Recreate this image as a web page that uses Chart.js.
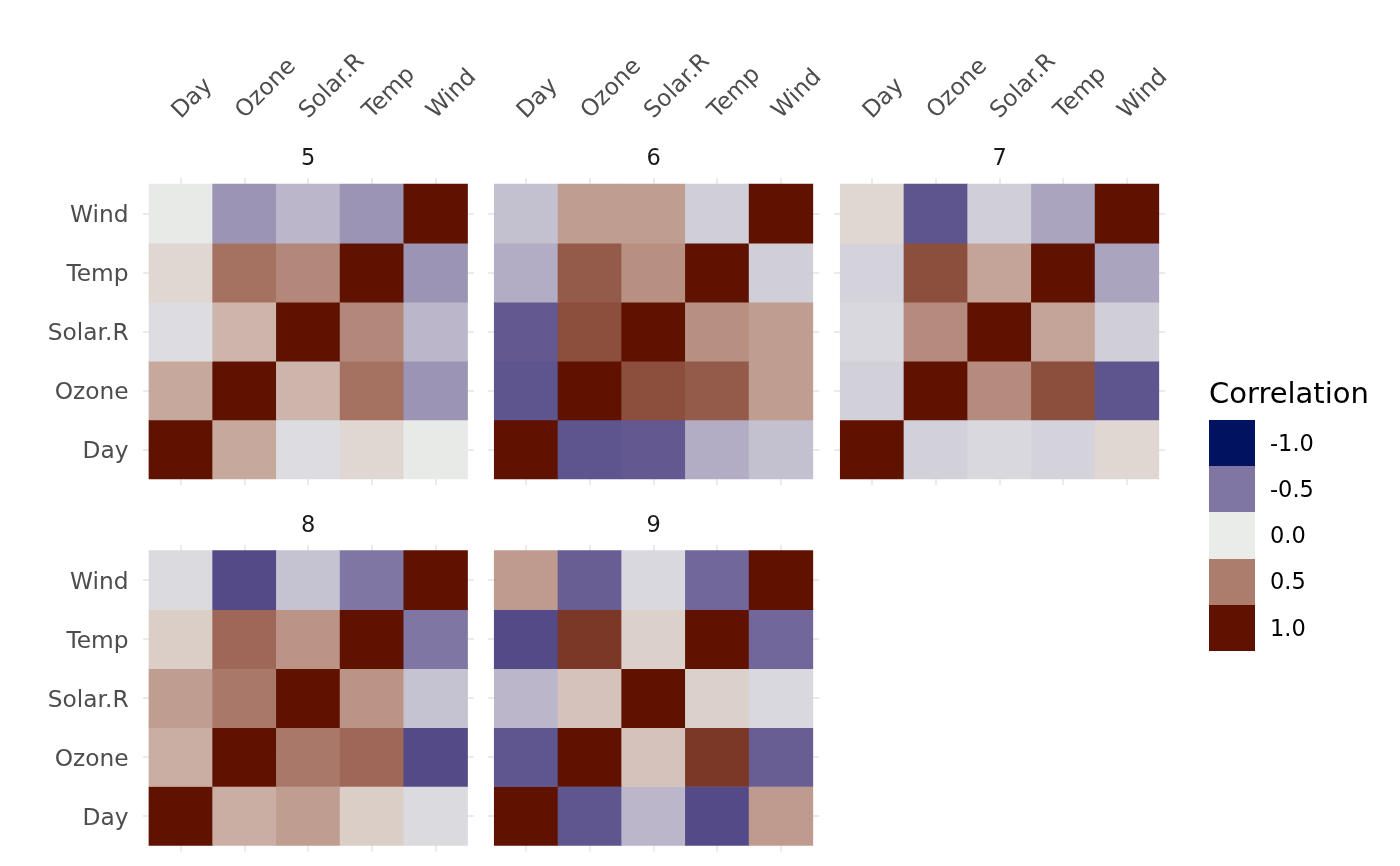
<!DOCTYPE html>
<html>
<head>
<meta charset="utf-8">
<script src="https://cdn.jsdelivr.net/npm/chart.js@4/dist/chart.umd.min.js"></script>
<style>
html,body{margin:0;padding:0;background:#ffffff;width:1400px;height:866px;overflow:hidden;font-family:'DejaVu Sans',sans-serif;}
canvas.facet{position:absolute;left:0;top:0;}
#legend{position:absolute;left:1209px;top:378.5px;color:#000;}
#legend .title{font-size:29px;line-height:29px;height:41.5px;white-space:nowrap;}
#legend .row{display:flex;align-items:center;height:46.2px;}
#legend .key{width:46px;height:46.2px;}
#legend .lab{margin-left:15px;font-size:22.5px;line-height:22.5px;}
</style>
</head>
<body>
<canvas id="facet5" class="facet" width="1400" height="866"></canvas>
<canvas id="facet6" class="facet" width="1400" height="866"></canvas>
<canvas id="facet7" class="facet" width="1400" height="866"></canvas>
<canvas id="facet8" class="facet" width="1400" height="866"></canvas>
<canvas id="facet9" class="facet" width="1400" height="866"></canvas>
<div id="legend"></div>
<script>
// ---------------- data ----------------
const variables = ['Day', 'Ozone', 'Solar.R', 'Temp', 'Wind'];
const months = ['5', '6', '7', '8', '9'];
// rows/cols in the order of `variables`
const corrMonth5 = [
  [ 1.00,  0.30, -0.06,  0.09, -0.01],
  [ 0.30,  1.00,  0.24,  0.55, -0.37],
  [-0.06,  0.24,  1.00,  0.45, -0.22],
  [ 0.09,  0.55,  0.45,  1.00, -0.37],
  [-0.01, -0.37, -0.22, -0.37,  1.00]
];
const corrMonth6 = [
  [ 1.00, -0.66, -0.64, -0.26, -0.18],
  [-0.66,  1.00,  0.72,  0.66,  0.35],
  [-0.64,  0.72,  1.00,  0.41,  0.35],
  [-0.26,  0.66,  0.41,  1.00, -0.12],
  [-0.18,  0.35,  0.35, -0.12,  1.00]
];
const corrMonth7 = [
  [ 1.00, -0.11, -0.08, -0.10,  0.09],
  [-0.11,  1.00,  0.43,  0.72, -0.66],
  [-0.08,  0.43,  1.00,  0.32, -0.12],
  [-0.10,  0.72,  0.32,  1.00, -0.30],
  [ 0.09, -0.66, -0.12, -0.30,  1.00]
];
const corrMonth8 = [
  [ 1.00,  0.27,  0.35,  0.13, -0.07],
  [ 0.27,  1.00,  0.52,  0.60, -0.71],
  [ 0.35,  0.52,  1.00,  0.39, -0.17],
  [ 0.13,  0.60,  0.39,  1.00, -0.50],
  [-0.07, -0.71, -0.17, -0.50,  1.00]
];
const corrMonth9 = [
  [ 1.00, -0.65, -0.22, -0.71,  0.36],
  [-0.65,  1.00,  0.18,  0.83, -0.61],
  [-0.22,  0.18,  1.00,  0.12, -0.08],
  [-0.71,  0.83,  0.12,  1.00, -0.57],
  [ 0.36, -0.61, -0.08, -0.57,  1.00]
];
const legendBreaks = [-1.0, -0.5, 0.0, 0.5, 1.0];
const legendLabels = ['-1.0', '-0.5', '0.0', '0.5', '1.0'];
const legendTitle = 'Correlation';

// ---------------- colour scale (Lab interpolation, like gradient2) ----------------
const lowColour = '#001260', midColour = '#EAECE9', highColour = '#601200';
function hexToRgb(h){return [1,3,5].map(i=>parseInt(h.slice(i,i+2),16));}
function toLin(c){c/=255;return c<=0.04045?c/12.92:Math.pow((c+0.055)/1.055,2.4);}
function toSrgb(c){c=c<=0.0031308?12.92*c:1.055*Math.pow(c,1/2.4)-0.055;return Math.round(Math.max(0,Math.min(1,c))*255);}
const WX=0.95047, WY=1.0, WZ=1.08883, EPS=216/24389, KAP=24389/27;
function fLab(t){return t>EPS?Math.cbrt(t):(KAP*t+16)/116;}
function fInv(t){const t3=t*t*t;return t3>EPS?t3:(116*t-16)/KAP;}
function rgbToLab(rgb){
  const [r,g,b]=rgb.map(toLin);
  const X=0.4124564*r+0.3575761*g+0.1804375*b;
  const Y=0.2126729*r+0.7151522*g+0.0721750*b;
  const Z=0.0193339*r+0.1191920*g+0.9503041*b;
  const fx=fLab(X/WX), fy=fLab(Y/WY), fz=fLab(Z/WZ);
  return [116*fy-16, 500*(fx-fy), 200*(fy-fz)];
}
function labToHex(lab){
  const [L,a,bb]=lab;
  const fy=(L+16)/116, fx=fy+a/500, fz=fy-bb/200;
  const X=WX*fInv(fx), Y=WY*(L>KAP*EPS?fy*fy*fy:L/KAP), Z=WZ*fInv(fz);
  const r= 3.2404542*X-1.5371385*Y-0.4985314*Z;
  const g=-0.9692660*X+1.8760108*Y+0.0415560*Z;
  const b= 0.0556434*X-0.2040259*Y+1.0572252*Z;
  return '#'+[r,g,b].map(toSrgb).map(v=>v.toString(16).padStart(2,'0')).join('');
}
const LAB_LOW=rgbToLab(hexToRgb(lowColour)), LAB_MID=rgbToLab(hexToRgb(midColour)), LAB_HIGH=rgbToLab(hexToRgb(highColour));
function fillColour(v){
  const t=Math.min(1,Math.abs(v)); const end=v>=0?LAB_HIGH:LAB_LOW;
  return labToHex(LAB_MID.map((m,i)=>m+(end[i]-m)*t));
}

// ---------------- layout ----------------
const FONT='DejaVu Sans';
Chart.defaults.font.family=FONT;
const colLeft=[142.6, 487.9, 833.9];
const rowTop=[178.3, 544.8];
const panelW=331.3, panelH=306.6;
const PAGE_W=1400, PAGE_H=866;
const AXIS_FONT=23.3;

const facetMatrices=[corrMonth5, corrMonth6, corrMonth7, corrMonth8, corrMonth9];

function makeFacet(k){
  const matrix=facetMatrices[k];
  const col=k%3, row=Math.floor(k/3);
  const showY=col===0, showX=row===0;
  const yW=showY?120:0, xH=showX?150:0;
  const points=[], colours=[];
  variables.forEach((rv,i)=>{
    variables.forEach((cv,j)=>{
      points.push({x:j+1, y:[i+0.5, i+1.5]});
      colours.push(fillColour(matrix[i][j]));
    });
  });
  const label=months[k];
  const stripPlugin={
    id:'strip'+k,
    afterDraw(chart){
      const {ctx, chartArea}=chart;
      ctx.save();
      ctx.font='22.5px "'+FONT+'"';
      ctx.fillStyle='#1A1A1A';
      ctx.textAlign='center';
      ctx.textBaseline='alphabetic';
      ctx.fillText(label,(chartArea.left+chartArea.right)/2, chartArea.top-13);
      ctx.restore();
    }
  };
  const ticksFive=(scale)=>{scale.ticks=variables.map((v,i)=>({value:i+1}));};
  new Chart(document.getElementById('facet'+months[k]), {
    type:'bar',
    data:{datasets:[{
      data:points,
      backgroundColor:colours,
      borderWidth:0,
      barPercentage:1.0,
      categoryPercentage:1.0
    }]},
    options:{
      responsive:false,
      animation:false,
      events:[],
      layout:{padding:{
        left:colLeft[col]-yW,
        top:rowTop[row]-xH,
        right:PAGE_W-(colLeft[col]+panelW),
        bottom:PAGE_H-(rowTop[row]+panelH)
      }},
      plugins:{legend:{display:false}, tooltip:{enabled:false}, title:{display:false}},
      scales:{
        x:{
          type:'linear', position:'top', min:0.4, max:5.6, offset:false,
          afterBuildTicks:ticksFive,
          afterFit:(s)=>{s.height=xH; s.paddingLeft=0; s.paddingRight=0;},
          grid:{color:'#EBEBEB', lineWidth:2, drawTicks:false, offset:false},
          border:{display:false},
          ticks:{
            display:showX, autoSkip:false, minRotation:45, maxRotation:45, padding:55, labelOffset:12,
            color:'#4D4D4D', font:{size:AXIS_FONT, lineHeight:1.0},
            callback:(v)=>variables[Math.round(v)-1]
          }
        },
        y:{
          type:'linear', position:'left', min:0.4, max:5.6,
          afterBuildTicks:ticksFive,
          afterFit:(s)=>{s.width=yW; s.paddingTop=0; s.paddingBottom=0;},
          grid:{color:'#EBEBEB', lineWidth:2, drawTicks:false},
          border:{display:false},
          ticks:{
            display:showY, autoSkip:false, padding:14, labelOffset:2.5,
            color:'#4D4D4D', font:{size:AXIS_FONT, lineHeight:1.0},
            callback:(v)=>variables[Math.round(v)-1]
          }
        }
      }
    },
    plugins:[stripPlugin]
  });
}
months.forEach((m,k)=>makeFacet(k));

// ---------------- legend ----------------
const legendDiv=document.getElementById('legend');
const t=document.createElement('div'); t.className='title'; t.textContent=legendTitle; legendDiv.appendChild(t);
legendBreaks.forEach((b,i)=>{
  const r=document.createElement('div'); r.className='row';
  const key=document.createElement('div'); key.className='key'; key.style.background=fillColour(b);
  const lab=document.createElement('div'); lab.className='lab'; lab.textContent=legendLabels[i];
  r.appendChild(key); r.appendChild(lab); legendDiv.appendChild(r);
});
</script>
</body>
</html>
